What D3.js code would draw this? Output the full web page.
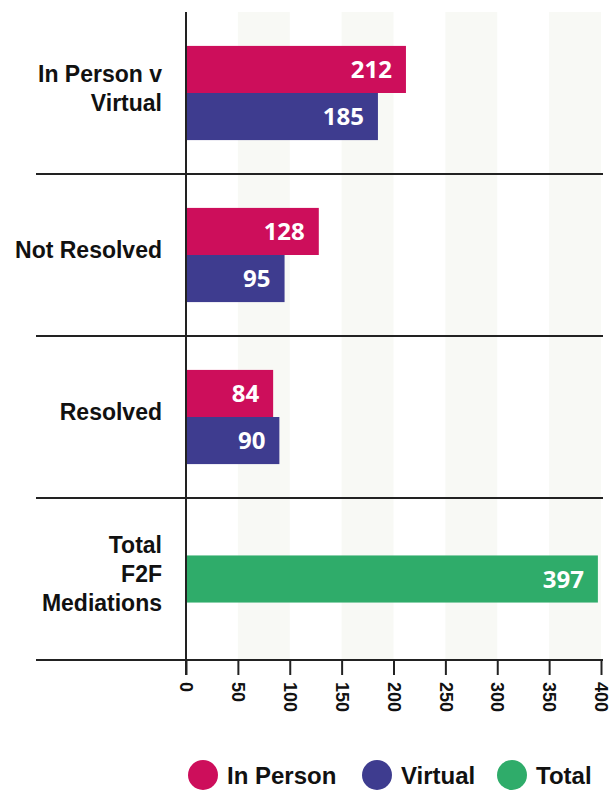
<!DOCTYPE html>
<html>
<head>
<meta charset="utf-8">
<script src="https://cdn.jsdelivr.net/npm/d3@7"></script>
<style>
  html, body { margin: 0; padding: 0; background: #ffffff; }
  svg { display: block; }
</style>
</head>
<body>
<svg id="chart" width="611" height="790"></svg>
<script>
const categories = ["In Person v Virtual", "Not Resolved", "Resolved", "Total F2F Mediations"];
const categoryLines = [["In Person v", "Virtual"], ["Not Resolved"], ["Resolved"], ["Total", "F2F", "Mediations"]];
const inPersonValues = [212, 128, 84, null];
const virtualValues = [185, 95, 90, null];
const totalValues = [null, null, null, 397];
const seriesNames = ["In Person", "Virtual", "Total"];
const seriesColors = ["#cd0e5b", "#3e3c8f", "#2fac6a"];
const tickValues = [0, 50, 100, 150, 200, 250, 300, 350, 400];

const svg = d3.select("#chart");
const x0 = 186, x1 = 601, yTop = 12, yBottom = 660, sepLeft = 36;

const x = d3.scaleLinear().domain([0, 400]).range([x0, x1]);
const y = d3.scaleBand().domain(categories).range([yTop, yBottom]);
const ySub = d3.scaleBand().domain(["In Person", "Virtual"]).range([0, y.bandwidth()]).paddingInner(0).paddingOuter(0.72);
const barH = ySub.bandwidth();

// background bands
const bandStarts = tickValues.filter((t, i) => i % 2 === 1);
svg.append("g").selectAll("rect").data(bandStarts).join("rect")
  .attr("x", d => x(d)).attr("width", d => x(d + 50) - x(d))
  .attr("y", yTop).attr("height", yBottom - yTop)
  .attr("fill", "#f8f9f5");

// separators
const seps = categories.slice(1).map(c => y(c)).concat([yBottom]);
svg.append("g").selectAll("line").data(seps).join("line")
  .attr("x1", sepLeft).attr("x2", x1 + 2).attr("y1", d => d).attr("y2", d => d)
  .attr("stroke", "#222").attr("stroke-width", 2);

// bars
const rows = [];
categories.forEach((c, i) => {
  if (inPersonValues[i] != null) rows.push({ c, s: 0, v: inPersonValues[i], y: y(c) + ySub("In Person") });
  if (virtualValues[i] != null) rows.push({ c, s: 1, v: virtualValues[i], y: y(c) + ySub("Virtual") });
  if (totalValues[i] != null) rows.push({ c, s: 2, v: totalValues[i], y: y(c) + (y.bandwidth() - barH) / 2 });
});
const bars = svg.append("g");
bars.selectAll("rect").data(rows).join("rect")
  .attr("x", x(0)).attr("y", d => d.y)
  .attr("width", d => x(d.v) - x(0)).attr("height", barH)
  .attr("fill", d => seriesColors[d.s]);
bars.selectAll("text").data(rows).join("text")
  .attr("x", d => x(d.v) - 14).attr("y", d => d.y + barH / 2)
  .attr("dy", "0.36em").attr("text-anchor", "end")
  .attr("fill", "#fff").attr("font-family", "'Open Sans', sans-serif")
  .attr("font-weight", 700).attr("font-size", 24)
  .text(d => d.v);

// y axis line
svg.append("line").attr("x1", x0).attr("x2", x0).attr("y1", yTop).attr("y2", yBottom + 15)
  .attr("stroke", "#222").attr("stroke-width", 2);

// x axis
const xAxis = d3.axisBottom(x).tickValues(tickValues).tickSize(15).tickSizeOuter(0).tickFormat(d3.format("d"));
const ax = svg.append("g").attr("transform", `translate(0,${yBottom})`).call(xAxis);
ax.select(".domain").remove();
ax.selectAll(".tick line").attr("stroke", "#222").attr("stroke-width", 2);
ax.selectAll(".tick text")
  .attr("transform", "rotate(90)")
  .attr("x", 22).attr("y", 0).attr("dy", "0.35em")
  .attr("text-anchor", "start")
  .attr("font-family", "'Liberation Sans', Arial, sans-serif")
  .attr("font-weight", 700).attr("font-size", 18).attr("fill", "#111");

// category labels
const lineH = 29;
const labels = svg.append("g");
categories.forEach((c, i) => {
  const lines = categoryLines[i];
  const cy = y(c) + y.bandwidth() / 2 - 5;
  const t = labels.append("text")
    .attr("text-anchor", "end")
    .attr("font-family", "'Liberation Sans', Arial, sans-serif")
    .attr("font-weight", 700).attr("font-size", 23).attr("fill", "#111");
  lines.forEach((ln, j) => {
    t.append("tspan").attr("x", 162)
      .attr("y", cy + (j - (lines.length - 1) / 2) * lineH)
      .attr("dy", "0.35em").text(ln);
  });
});

// legend
const legendX = [203, 377, 512];
const lg = svg.append("g");
seriesNames.forEach((s, i) => {
  lg.append("circle").attr("cx", legendX[i]).attr("cy", 775).attr("r", 15).attr("fill", seriesColors[i]);
  lg.append("text").attr("x", legendX[i] + 24).attr("y", 775).attr("dy", "0.36em")
    .attr("font-family", "'Liberation Sans', Arial, sans-serif")
    .attr("font-weight", 700).attr("font-size", 24).attr("fill", "#111")
    .text(s);
});
</script>
</body>
</html>
